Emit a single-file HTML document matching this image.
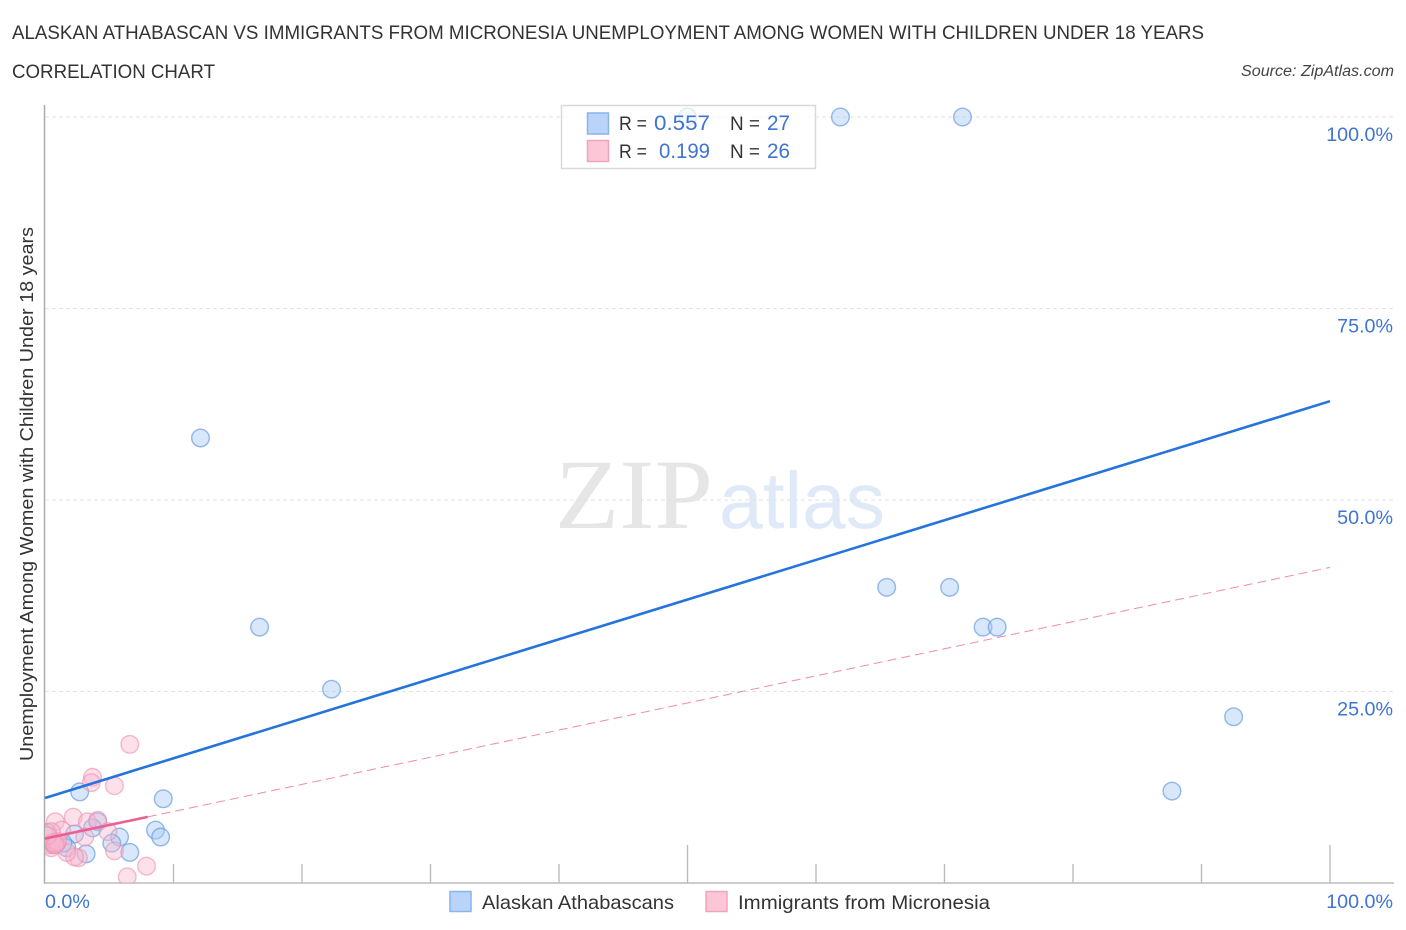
<!DOCTYPE html>
<html>
<head>
<meta charset="utf-8">
<title>Alaskan Athabascan vs Immigrants from Micronesia correlation chart</title>
<style>
html,body{margin:0;padding:0;background:#fff;width:1406px;height:930px;overflow:hidden}
svg{display:block}
text{font-family:"Liberation Sans",sans-serif}
</style>
</head>
<body>
<svg id="chart" width="1406" height="930" viewBox="0 0 1406 930" xmlns="http://www.w3.org/2000/svg">
  <defs><clipPath id="plot-clip"><rect x="45" y="105" width="1349" height="778"/></clipPath></defs>
  <text x="12" y="39" font-size="19.5" fill="#333" textLength="1192" lengthAdjust="spacingAndGlyphs">ALASKAN ATHABASCAN VS IMMIGRANTS FROM MICRONESIA UNEMPLOYMENT AMONG WOMEN WITH CHILDREN UNDER 18 YEARS</text>
  <text x="12" y="78" font-size="19.5" fill="#333" textLength="203" lengthAdjust="spacingAndGlyphs">CORRELATION CHART</text>
  <text x="1241" y="76" font-size="15.5" font-style="italic" fill="#444" textLength="153" lengthAdjust="spacingAndGlyphs">Source: ZipAtlas.com</text>
  <text x="555" y="528" font-size="100" fill="#e6e6e6" textLength="158" lengthAdjust="spacingAndGlyphs" style="font-family:'Liberation Serif',serif">ZIP</text>
  <text x="719" y="528" font-size="80" fill="#dfe9f8" textLength="166" lengthAdjust="spacingAndGlyphs">atlas</text>
  <g id="grid"></g>
  <g id="axes"></g>
  <g id="points" clip-path="url(#plot-clip)"></g>
  <g id="trends"></g>
  <text x="27" y="494" font-size="18.5" fill="#333" text-anchor="middle" transform="rotate(-90 27 494)" textLength="534" lengthAdjust="spacingAndGlyphs" dy="6">Unemployment Among Women with Children Under 18 years</text>

  <g>
    <rect x="561.5" y="105.5" width="254" height="63" fill="#fff" fill-opacity="0.72" stroke="#d9d9d9" stroke-width="1.5"/>
    <rect x="587.5" y="113" width="21" height="21" fill="#b9d4f8" stroke="#8ab4ea" stroke-width="1.5"/>
    <rect x="587.5" y="140.5" width="21" height="21" fill="#fcc6d7" stroke="#f0a5bd" stroke-width="1.5"/>
    <text x="619" y="130" font-size="19" fill="#333" textLength="28" lengthAdjust="spacingAndGlyphs">R =</text>
    <text x="654" y="130" font-size="21" fill="#3f74d0" textLength="56" lengthAdjust="spacingAndGlyphs">0.557</text>
    <text x="730" y="130" font-size="19" fill="#333" textLength="30" lengthAdjust="spacingAndGlyphs">N =</text>
    <text x="767" y="130" font-size="21" fill="#3f74d0" textLength="23" lengthAdjust="spacingAndGlyphs">27</text>
    <text x="619" y="158" font-size="19" fill="#333" textLength="28" lengthAdjust="spacingAndGlyphs">R =</text>
    <text x="659" y="158" font-size="21" fill="#3f74d0" textLength="51" lengthAdjust="spacingAndGlyphs">0.199</text>
    <text x="730" y="158" font-size="19" fill="#333" textLength="30" lengthAdjust="spacingAndGlyphs">N =</text>
    <text x="767" y="158" font-size="21" fill="#3f74d0" textLength="23" lengthAdjust="spacingAndGlyphs">26</text>
  </g>

  <g>
    <rect x="450" y="891.5" width="21" height="20" fill="#b9d4f8" stroke="#8ab4ea" stroke-width="1.5"/>
    <text x="482" y="909" font-size="19.5" fill="#333" textLength="192" lengthAdjust="spacingAndGlyphs">Alaskan Athabascans</text>
    <rect x="706" y="891.5" width="21" height="20" fill="#fcc6d7" stroke="#f0a5bd" stroke-width="1.5"/>
    <text x="738" y="909" font-size="19.5" fill="#333" textLength="252" lengthAdjust="spacingAndGlyphs">Immigrants from Micronesia</text>
  </g>
</svg>
<script>
const blueX = [50.0,61.9,71.4,12.1,16.7,22.3,65.5,70.4,73.0,74.1,92.5,87.7,2.7,9.2,8.6,9.0,5.8,5.2,6.6,4.1,3.7,2.3,1.7,3.2,0.2,0.6,1.4];
const blueY = [100,100,100,58.1,33.4,25.3,38.6,38.6,33.4,33.4,21.7,12.0,11.9,11.0,6.9,6.0,6.0,5.2,4.0,8.0,7.2,6.4,4.6,3.8,6.6,5.0,5.2];
const pinkX = [6.6,3.7,3.6,5.4,0.8,2.2,3.3,4.1,4.9,3.1,5.4,2.6,2.3,1.7,7.9,6.4,1.3,0.5,0.3,0.5,0.6,0.7,0.9,1.0,0.2,0.8];
const pinkY = [18.1,13.8,13.1,12.7,8.0,8.6,8.0,8.2,6.7,6.0,4.2,3.3,3.4,4.0,2.2,0.8,6.9,6.7,5.0,4.6,5.3,5.0,5.2,5.4,6.2,5.0];
const blueTrendX = [0,100];
const blueTrendY = [11.1,62.9];
const pinkTrendX = [0,100];
const pinkTrendY = [5.8,41.2];
const pinkSolidEndX = [8];
const xTickValues = [10,20,30,40,50,60,70,80,90,100];
const xTickMajor = [50,100];
const xEndValues = [0,100];
const xEndLabels = ['0.0%','100.0%'];
const yTickValues = [100,75,50,25];
const yTickLabels = ['100.0%','75.0%','50.0%','25.0%'];

const NS = 'http://www.w3.org/2000/svg';
function xScale(v){ return 45 + v * 12.85; }
function yScale(v){ return 883 - v * 7.66; }
function make(tag, attrs, parent){
  const el = document.createElementNS(NS, tag);
  for (const k in attrs) el.setAttribute(k, attrs[k]);
  parent.appendChild(el);
  return el;
}
const gridG = document.getElementById('grid');
const axesG = document.getElementById('axes');
const pointsG = document.getElementById('points');
const trendsG = document.getElementById('trends');

yTickValues.forEach(function(v, i){
  const line = make('line', {x1:45, x2:1394, y1:yScale(v), y2:yScale(v), stroke:'#e2e2e2', 'stroke-width':1, 'stroke-dasharray':'4 3'}, gridG);
  
  
  const label = make('text', {x:1393, y:yScale(v)+24, 'text-anchor':'end', 'font-size':19.7, fill:'#3f74d0'}, axesG);
  label.textContent = yTickLabels[i];
  
  
});

const yAxis = make('line', {x1:44.5, x2:44.5, y1:105, y2:884, stroke:'#aaa', 'stroke-width':1.5}, axesG);


const xAxis = make('line', {x1:44, x2:1394, y1:883, y2:883, stroke:'#bbb', 'stroke-width':1.6}, axesG);



xTickValues.forEach(function(v){
  const top = xTickMajor.indexOf(v) >= 0 ? 845 : 864;
  const tick = make('line', {x1:xScale(v), x2:xScale(v), y1:top, y2:883, stroke:'#bbb', 'stroke-width':1.4}, axesG);
  
  
});
xEndValues.forEach(function(v, i){
  const label = make('text', {x: i === 0 ? xScale(v) : 1393, y:908, 'text-anchor': i === 0 ? 'start' : 'end', 'font-size':19.7, fill:'#3f74d0'}, axesG);
  label.textContent = xEndLabels[i];
  
  
});

blueX.forEach(function(v, i){
  const c = make('circle', {cx:xScale(v), cy:yScale(blueY[i]), r:8.8, fill:'#a9cbf5', 'fill-opacity':0.45, stroke:'#5f95e0', 'stroke-opacity':0.65, 'stroke-width':1.4}, pointsG);
  
  
});
pinkX.forEach(function(v, i){
  const c = make('circle', {cx:xScale(v), cy:yScale(pinkY[i]), r:8.8, fill:'#f9b6cc', 'fill-opacity':0.42, stroke:'#ee8fae', 'stroke-opacity':0.6, 'stroke-width':1.4}, pointsG);
  
  
});

const pinkAt = function(x){
  return pinkTrendY[0] + (pinkTrendY[1]-pinkTrendY[0]) * (x-pinkTrendX[0]) / (pinkTrendX[1]-pinkTrendX[0]);
};
const pinkDash = make('line', {x1:xScale(pinkSolidEndX[0]), y1:yScale(pinkAt(pinkSolidEndX[0])), x2:xScale(pinkTrendX[1]), y2:yScale(pinkTrendY[1]), stroke:'#ec6e98', 'stroke-width':1, 'stroke-dasharray':'9 5', 'stroke-opacity':0.8}, trendsG);


const pinkSolid = make('line', {x1:xScale(pinkTrendX[0]), y1:yScale(pinkTrendY[0]), x2:xScale(pinkSolidEndX[0]), y2:yScale(pinkAt(pinkSolidEndX[0])), stroke:'#ea6093', 'stroke-width':2.6}, trendsG);


const blueTrend = make('line', {x1:xScale(blueTrendX[0]), y1:yScale(blueTrendY[0]), x2:xScale(blueTrendX[1]), y2:yScale(blueTrendY[1]), stroke:'#2474dc', 'stroke-width':2.6}, trendsG);


</script>
</body>
</html>
